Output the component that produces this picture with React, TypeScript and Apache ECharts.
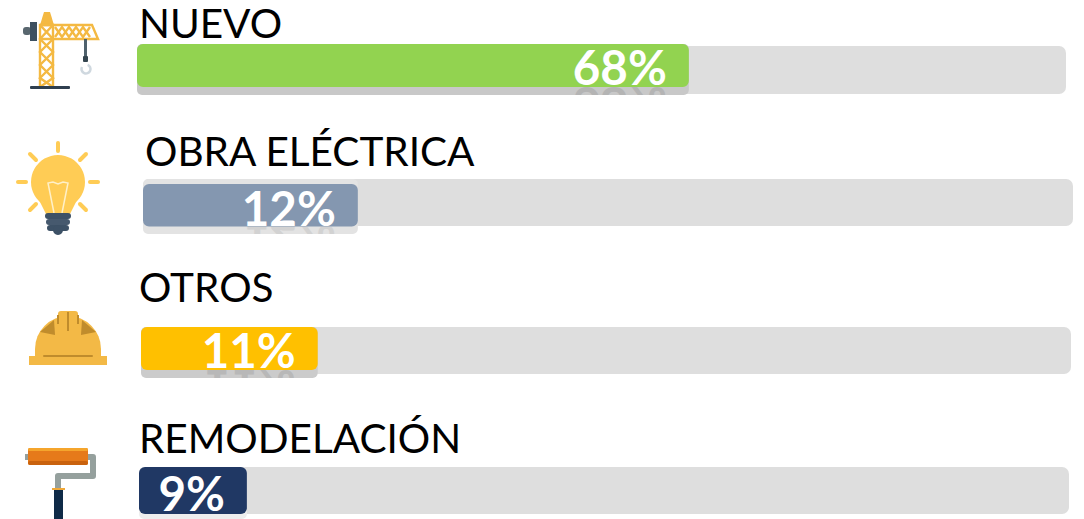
import React, { useEffect, useRef } from "react";
import * as echarts from "echarts";

const categories = ["NUEVO", "OBRA ELÉCTRICA", "OTROS", "REMODELACIÓN"];
const percentLabels = ["68%", "12%", "11%", "9%"];
// bar lengths, in percent of the grey track
const fillLengths = [59.4, 23.1, 19.0, 11.6];
const trackLengths = [100, 100, 100, 100];
const fillColors = ["#92d350", "#8497b0", "#ffc000", "#203864"];
const shadowColors = ["#c8c8c8", "#e3e3e3", "#cbcbcb", "#eeeeee"];
const mirrorColors = ["#b4b4b4", "#d2d2d2", "#b8b8b8", ""];

// pixel layout of each row
const rows = [
  { left: 137, width: 929, track: [46, 94], fill: [44, 87], shadow: [44, 95], textX: 139, textY: 22, dy: 1 },
  { left: 143, width: 930, track: [179, 226], fill: [184, 226.5], shadow: [179, 234], textX: 145, textY: 150, dy: 2 },
  { left: 141, width: 930, track: [327, 374], fill: [327, 370], shadow: [327, 378], textX: 139, textY: 286, dy: 1 },
  { left: 139, width: 930, track: [467, 514], fill: [467, 514], shadow: [467, 519], textX: 139, textY: 437, dy: 2 },
];

const FONT = "Lato, 'Open Sans', sans-serif";
const ORANGE = "#f4b942";
const DARK = "#3d5060";

function line(x1: number, y1: number, x2: number, y2: number, stroke: string, lineWidth: number, cap = "round") {
  return { type: "line", shape: { x1, y1, x2, y2 }, style: { stroke, lineWidth, lineCap: cap } };
}
function poly(points: number[][], fill: string) {
  return { type: "polygon", shape: { points }, style: { fill } };
}
function rect(x: number, y: number, width: number, height: number, fill: string, r = 0) {
  return { type: "rect", shape: { x, y, width, height, r }, style: { fill } };
}
function lattice(points: number[][]) {
  return { type: "polyline", shape: { points }, style: { stroke: ORANGE, lineWidth: 2.4, fill: "none" } };
}

function craneIcon() {
  return [
    rect(23, 27, 8, 8, "#59676f", 3),
    rect(30, 22, 7, 19, DARK),
    poly([[44, 12], [50, 12], [54, 25], [40, 25]], ORANGE),
    lattice([[40, 87], [40, 25], [53, 25], [53, 87]]),
    lattice([[40, 25], [53, 25], [92, 25], [98, 39], [53, 39], [40, 39]]),
    lattice([[40, 25], [53, 39], [40, 52], [53, 65], [40, 78], [53, 87]]),
    lattice([[53, 25], [40, 39], [53, 52], [40, 65], [53, 78], [40, 87]]),
    lattice([[55, 27], [62, 37], [69, 27], [76, 37], [83, 27], [90, 37]]),
    lattice([[55, 37], [62, 27], [69, 37], [76, 27], [83, 37], [90, 27]]),
    rect(30, 86, 40, 3, "#2f3f4f", 1),
    rect(84, 39, 3, 18, "#4f616c"),
    rect(83, 56, 5, 6, "#34454f", 1),
    { type: "arc", shape: { cx: 86, cy: 69, r: 4.5, startAngle: -1.2, endAngle: 3.6, clockwise: true }, style: { stroke: "#cfd8df", lineWidth: 2.5, fill: "none" } },
  ];
}

function bulbIcon() {
  const c = "#ffcc55";
  return [
    line(58, 143, 58, 151, c, 4),
    line(18, 182, 26, 182, c, 4),
    line(90, 182, 98, 182, c, 4),
    line(30, 154, 36, 160, c, 4),
    line(86, 154, 80, 160, c, 4),
    line(30, 210, 36, 204, c, 4),
    line(86, 210, 80, 204, c, 4),
    { type: "circle", shape: { cx: 58, cy: 182, r: 27 }, style: { fill: c } },
    poly([[38, 198], [78, 198], [70, 214], [46, 214]], c),
    { type: "polyline", shape: { points: [[54, 213], [48, 183], [53, 182], [58, 184], [63, 182], [68, 183], [62, 213]] }, style: { stroke: "#fff0c8", lineWidth: 1.5, fill: "none" } },
    rect(45, 213, 26, 6, "#3d5166", 3),
    rect(46, 219, 24, 6, "#46596e", 3),
    rect(47, 225, 22, 6, "#3d5166", 3),
    { type: "circle", shape: { cx: 58, cy: 230, r: 5 }, style: { fill: "#3d5166" } },
  ];
}

function helmetIcon() {
  const c = "#f3b946";
  const d = "#c08c2c";
  return [
    { type: "sector", shape: { cx: 68, cy: 349, r: 33, startAngle: Math.PI, endAngle: 2 * Math.PI, clockwise: true }, style: { fill: c } },
    rect(35, 349, 66, 9, c),
    rect(29, 356, 78, 9, c),
    rect(58, 311, 20, 12, c, 3),
    rect(43, 355, 50, 2, d, 1),
    rect(67, 312, 2, 19, d),
    rect(57, 315, 2, 9, d),
    rect(77, 315, 2, 9, d),
    poly([[54, 320], [40, 332], [55, 335]], d),
    poly([[82, 320], [96, 332], [81, 335]], d),
  ];
}

function rollerIcon() {
  const g = "#95a09d";
  return [
    { type: "polyline", shape: { points: [[25, 457], [93, 457], [93, 476], [58, 476], [58, 490]] }, style: { stroke: g, lineWidth: 6, fill: "none", lineJoin: "round" } },
    rect(28, 448, 60, 17, "#e67a1a", 2),
    rect(28, 448, 60, 3, "#f5a52c", 2),
    rect(28, 461, 60, 4, "#c9620e", 2),
    rect(54, 489, 9, 30, "#0f2a47"),
    rect(52, 488, 13, 2, "#f0a838"),
  ];
}

const grids: any[] = [];
const xAxes: any[] = [];
const yAxes: any[] = [];
const series: any[] = [];

function addGrid(i: number, span: number[]) {
  const idx = grids.length;
  grids.push({ left: rows[i].left, width: rows[i].width, top: span[0], height: span[1] - span[0], containLabel: false });
  xAxes.push({ type: "value", gridIndex: idx, min: 0, max: 100, show: false });
  yAxes.push({ type: "category", gridIndex: idx, data: [categories[i]], show: false });
  return idx;
}

categories.forEach((name, i) => {
  const row = rows[i];
  const t = addGrid(i, row.track);
  series.push({
    type: "bar", name: name + " track", xAxisIndex: t, yAxisIndex: t, z: 1, barWidth: "100%", silent: true,
    data: [trackLengths[i]], itemStyle: { color: "#dedede", borderRadius: 7 },
  });

  const s = addGrid(i, row.shadow);
  const fillMid = (row.fill[0] + row.fill[1]) / 2 + row.dy;
  series.push({
    type: "custom", name: name + " shadow", xAxisIndex: s, yAxisIndex: s, z: 2, silent: true, clip: false,
    data: [[fillLengths[i], 0]], encode: { x: 0, y: 1 },
    renderItem: (_p: any, api: any) => {
      const end = api.coord([api.value(0), 0]);
      const start = api.coord([0, 0]);
      const h = api.size([0, 1])[1];
      const top = start[1] - h / 2;
      const w = end[0] - start[0];
      const children: any[] = [
        { type: "rect", shape: { x: start[0], y: top, width: w, height: h, r: 5 }, style: { fill: shadowColors[i] } },
      ];
      if (mirrorColors[i]) {
        children.push({
          type: "group",
          clipPath: { type: "rect", shape: { x: start[0], y: row.fill[1], width: w, height: Math.max(0, row.shadow[1] - row.fill[1]) } },
          children: [
            {
              type: "text", x: end[0] - 22, y: 2 * row.fill[1] - fillMid - 2, scaleY: -1,
              style: { text: percentLabels[i], font: `bold 47.5px ${FONT}`, fill: mirrorColors[i], align: "right", verticalAlign: "middle" },
            },
          ],
        });
      }
      return { type: "group", children };
    },
  });

  const f = addGrid(i, row.fill);
  series.push({
    type: "bar", name, xAxisIndex: f, yAxisIndex: f, z: 3, barWidth: "100%", silent: true,
    data: [fillLengths[i]], itemStyle: { color: fillColors[i], borderRadius: 6 },
    label: {
      show: true, position: "insideRight", distance: 22, offset: [0, row.dy], formatter: percentLabels[i],
      color: "#ffffff", fontFamily: FONT, fontWeight: "bold", fontSize: 47.5,
    },
  });
});

const categoryTexts = categories.map((name, i) => ({
  type: "text", x: rows[i].textX, y: rows[i].textY,
  style: { text: name, font: `40.5px ${FONT}`, fill: "#000000", align: "left", verticalAlign: "middle" },
}));

export default function App() {
  const ref = useRef<HTMLDivElement>(null);
  useEffect(() => {
    document.body.style.margin = "0";
    const chart = echarts.init(ref.current!, null, { renderer: "svg" });
    chart.setOption({
      animation: false,
      backgroundColor: "#ffffff",
      grid: grids,
      xAxis: xAxes,
      yAxis: yAxes,
      series,
      graphic: [...craneIcon(), ...bulbIcon(), ...helmetIcon(), ...rollerIcon(), ...categoryTexts],
    });
    return () => chart.dispose();
  }, []);
  return <div ref={ref} style={{ position: "fixed", left: 0, top: 0, width: 1084, height: 519 }} />;
}
